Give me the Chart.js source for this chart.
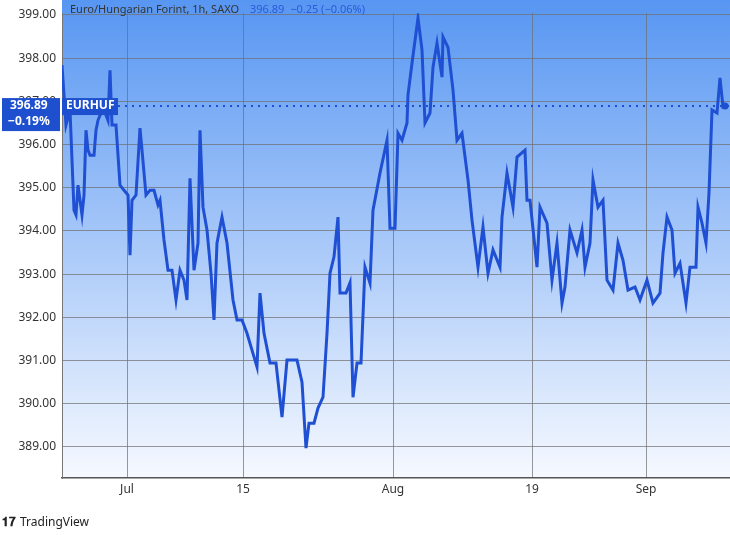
<!DOCTYPE html>
<html>
<head>
<meta charset="utf-8">
<script src="https://cdn.jsdelivr.net/npm/chart.js@4/dist/chart.umd.min.js"></script>
<style>
  body { margin: 0; background: #fff; font-family: "Noto Sans", sans-serif; }
  #box { position: relative; width: 730px; height: 535px; }
  #footer { position: absolute; left: 2px; top: 513px; font-size: 12px; color: #222; }
  #footer b { font-weight: 900; margin-right: 4px; }
</style>
</head>
<body>
<div id="box">
  <canvas id="grafico" width="730" height="535"></canvas>
  <div id="footer"><b>𝟏𝟕</b>TradingView</div>
</div>
<script>
// hourly bars, index from start of window
const barras = [0,4,8,12,14,16,18,20,22,24,26,28,32,34,36,38,42,46,48,50,54,58,62,66,68,70,74,78,80,84,88,92,96,98,102,106,110,114,118,122,125,128,132,136,138,141,145,149,152,155,160,165,171,175,180,185,190,195,198,202,208,214,220,225,230,235,240,244,247,252,256,261,265,268,272,276,278,284,288,291,295,299,303,308,311,318,325,328,333,336,340,345,346,350,356,360,363,368,371,375,380,381,386,391,395,400,406,410,416,421,426,431,438,440,445,451,455,463,465,468,475,478,485,490,495,500,503,508,515,520,523,528,531,536,541,545,551,556,561,566,573,578,585,591,598,601,605,610,613,618,624,628,634,636,640,644,647,650,655,658,661,663];
const precos = [397.84,396.45,396.80,394.48,394.37,395.06,394.71,394.37,394.83,396.33,395.87,395.75,395.75,396.33,396.56,396.68,396.80,396.56,397.72,396.45,396.45,395.06,394.94,394.83,393.44,394.71,394.83,396.38,395.87,394.83,394.94,394.94,394.60,394.71,393.79,393.09,393.09,392.40,393.09,392.86,392.40,395.22,393.09,393.72,396.33,394.55,394.02,393.02,391.94,393.72,394.32,393.72,392.40,391.94,391.94,391.63,391.24,390.85,392.56,391.63,390.94,390.94,389.69,391.01,391.01,391.01,390.50,388.97,389.55,389.55,389.90,390.15,391.63,393.02,393.40,394.32,392.56,392.56,392.80,390.15,390.94,390.94,393.16,392.79,394.48,395.34,396.10,394.06,394.06,396.26,396.10,396.50,397.15,397.88,398.93,398.19,396.50,396.73,397.79,398.35,397.56,398.49,398.25,397.26,396.10,396.26,395.18,394.25,393.16,394.09,393.02,393.56,393.16,394.32,395.34,394.55,395.71,395.87,394.71,394.71,393.16,394.55,394.18,392.86,393.72,392.33,392.70,394.02,393.49,394.02,393.16,393.72,395.18,394.55,394.71,392.86,392.63,393.72,393.32,392.63,392.70,392.40,392.86,392.33,392.56,393.49,394.32,394.02,393.02,393.25,392.33,393.16,393.16,394.55,394.18,393.72,394.88,396.80,396.73,397.54,396.87,396.89];
const rotulosX = ['Jul', '15', 'Aug', '19', 'Sep'];
const posicoesX = [65, 181, 331, 470, 584];
const rotulosY = [389, 390, 391, 392, 393, 394, 395, 396, 397, 398, 399];
const ultimoPreco = 396.89;

const pontos = barras.map((b, i) => ({ x: b, y: precos[i] }));

// fundo em degradê e marcações do preço
const extras = {
    id: 'extras',
    beforeDatasetsDraw(chart) {
        const { ctx, chartArea: a } = chart;
        const g = ctx.createLinearGradient(0, 0, 0, a.bottom);
        g.addColorStop(0, '#5796f2');
        g.addColorStop(1, '#f6f9ff');
        ctx.save();
        ctx.globalCompositeOperation = 'destination-over';
        ctx.fillStyle = g;
        ctx.fillRect(a.left, 0, a.right - a.left, a.bottom);
        ctx.restore();
    },
    afterDatasetsDraw(chart) {
        const { ctx, chartArea: a, scales } = chart;
        const y = scales.y.getPixelForValue(ultimoPreco);
        ctx.save();
        ctx.strokeStyle = '#1d4fcf';
        ctx.lineWidth = 2;
        ctx.setLineDash([2, 5]);
        ctx.beginPath();
        ctx.moveTo(a.left, y);
        ctx.lineTo(a.right, y);
        ctx.stroke();
        ctx.setLineDash([]);
        // ponto final
        const xf = scales.x.getPixelForValue(barras[barras.length - 1]);
        ctx.fillStyle = '#1d4fcf';
        ctx.beginPath();
        ctx.arc(xf, y, 3.5, 0, Math.PI * 2);
        ctx.fill();
        // caixa do eixo
        ctx.fillRect(2, y - 8, a.left - 4, 33);
        ctx.fillRect(a.left, y - 8, 56, 17);
        ctx.fillStyle = '#fff';
        ctx.font = 'bold 12px "Noto Sans"';
        ctx.textBaseline = 'middle';
        ctx.fillText('396.89', 10, y);
        ctx.fillText('−0.19%', 8, y + 16);
        ctx.fillText('EURHUF', a.left + 4, y);
        // título
        ctx.font = '11px "Noto Sans"';
        ctx.fillStyle = '#333';
        ctx.fillText('Euro/Hungarian Forint, 1h, SAXO', 70, 10);
        ctx.fillStyle = '#2a5ad8';
        ctx.fillText('396.89  −0.25 (−0.06%)', 250, 10);
        ctx.restore();
    }
};

new Chart(document.getElementById('grafico').getContext('2d'), {
    type: 'scatter',
    data: {
        datasets: [{
            data: pontos,
            showLine: true,
            borderColor: '#1f4fd3',
            borderWidth: 3,
            pointRadius: 0,
            tension: 0
        }]
    },
    options: {
        responsive: false,
        animation: false,
        layout: { padding: { top: 0, right: 0, left: 0, bottom: 0 } },
        plugins: { legend: { display: false }, tooltip: { enabled: false } },
        scales: {
            x: {
                type: 'linear',
                min: 0,
                max: 668,
                afterBuildTicks: s => { s.ticks = posicoesX.map(v => ({ value: v })); },
                afterFit: s => { s.height = 57; },
                ticks: {
                    callback: (v, i) => rotulosX[i],
                    color: '#333',
                    font: { size: 12, family: 'Noto Sans' },
                    maxRotation: 0,
                    padding: 4
                },
                grid: { color: 'rgba(110,110,110,0.7)', lineWidth: 1, drawTicks: false },
                border: { color: '#555', width: 1.5 }
            },
            y: {
                min: 388.28,
                max: 399.04,
                afterBuildTicks: s => { s.ticks = rotulosY.map(v => ({ value: v })); },
                afterFit: s => { s.width = 62; },
                ticks: {
                    callback: v => v.toFixed(2),
                    color: '#333',
                    font: { size: 12, family: 'Noto Sans' },
                    padding: 6
                },
                grid: { color: 'rgba(110,110,110,0.7)', lineWidth: 1, drawTicks: false },
                border: { color: '#777' }
            }
        }
    },
    plugins: [extras]
});
</script>
</body>
</html>
